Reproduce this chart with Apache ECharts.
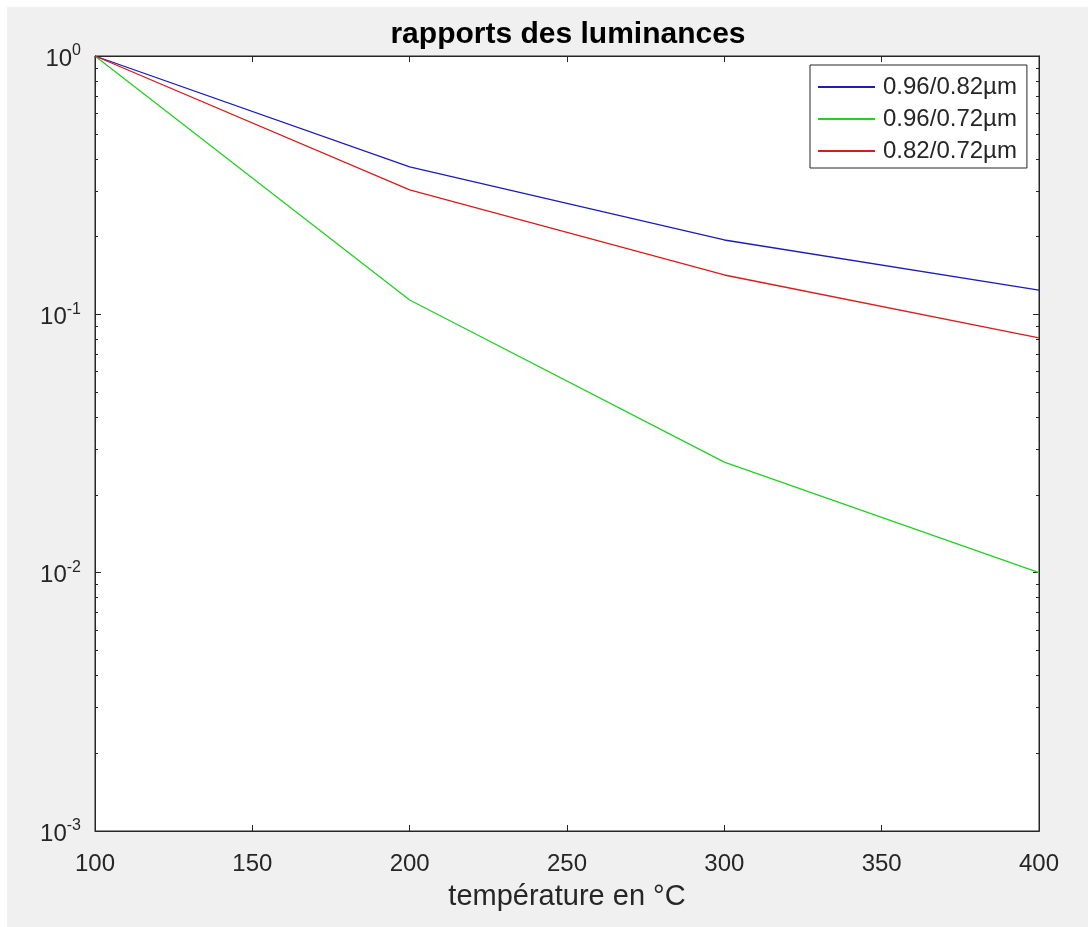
<!DOCTYPE html>
<html>
<head>
<meta charset="utf-8">
<script src="https://cdn.jsdelivr.net/npm/echarts@6/dist/echarts.min.js"></script>
<style>
html,body{margin:0;padding:0;background:#ffffff;}
#c{position:absolute;left:7px;top:7px;width:1081px;height:920px;}
</style>
</head>
<body>
<div id="c"></div>
<script>
// ---- data ----
var temperatures = [100, 200, 300, 400];
var ratio_096_082 = [1, 0.372, 0.194, 0.124];
var ratio_096_072 = [1, 0.1136, 0.0268, 0.0100];
var ratio_082_072 = [1, 0.303, 0.142, 0.081];
var seriesNames = ['0.96/0.82\u00b5m', '0.96/0.72\u00b5m', '0.82/0.72\u00b5m'];
var xTicks = [100, 150, 200, 250, 300, 350, 400];
var yDecades = [0.001, 0.01, 0.1, 1];
var yMinorTicks = [];
[0.001, 0.01, 0.1].forEach(function (d) {
  [2, 3, 4, 5, 6, 7, 8, 9].forEach(function (m) { yMinorTicks.push(+(d * m).toPrecision(3)); });
});

function pairs(xs, ys) { return xs.map(function (x, i) { return [x, ys[i]]; }); }

var axisColor = '#262626';
var font = 'Liberation Sans, Arial, Helvetica, sans-serif';
var colors = ['#1c1cb8', '#22d022', '#d81c1c'];

function logAxis(pos, showLabel, ticks, len) {
  return {
    type: 'log', logBase: 10, position: pos, min: 0.001, max: 1,
    gridIndex: 0,
    axisLine: { show: true, lineStyle: { color: axisColor, width: 1 } },
    axisTick: { show: true, inside: true, length: len, customValues: ticks, lineStyle: { color: axisColor, width: 1 } },
    axisLabel: showLabel ? {
      show: true, margin: 14, customValues: yDecades,
      formatter: function (v) { var e = Math.round(Math.log10(v)); return '{b|10}{s|' + e + '}'; },
      rich: {
        b: { fontSize: 24, fontFamily: font, color: axisColor, padding: [6, 0, 0, 0] },
        s: { fontSize: 16, fontFamily: font, color: axisColor, verticalAlign: 'bottom', padding: [0, 0, 12, 0] }
      }
    } : { show: false },
    splitLine: { show: false },
    minorTick: { show: false }
  };
}

function xAx(pos, showLabel) {
  return {
    type: 'value', position: pos, min: 100, max: 400, interval: 50, gridIndex: 0,
    axisLine: { show: true, onZero: false, lineStyle: { color: axisColor, width: 1 } },
    axisTick: { show: true, inside: true, length: 6, lineStyle: { color: axisColor, width: 1 } },
    axisLabel: showLabel ? { show: true, margin: 21, fontSize: 24, fontFamily: font, color: axisColor } : { show: false },
    splitLine: { show: false },
    name: showLabel ? 'temp\u00e9rature en \u00b0C' : '',
    nameLocation: 'middle', nameGap: 51,
    nameTextStyle: { fontSize: 29, fontFamily: font, color: axisColor }
  };
}

var chart = echarts.init(document.getElementById('c'), null, { renderer: 'canvas' });
chart.setOption({
  backgroundColor: '#f0f0f0',
  animation: false,
  title: {
    text: 'rapports des luminances', left: 556, top: 8, textAlign: 'center',
    textStyle: { fontSize: 30, fontWeight: 'bold', fontFamily: font, color: '#000' }
  },
  grid: { left: 88, top: 49, width: 944, height: 775, show: true, backgroundColor: '#ffffff', borderColor: axisColor, borderWidth: 1 },
  legend: {
    orient: 'vertical', left: 803, top: 58,
    backgroundColor: '#ffffff', borderColor: axisColor, borderWidth: 1, borderRadius: 0,
    padding: [10, 10, 5, 8], itemGap: 8, itemWidth: 57, itemHeight: 2, icon: 'rect',
    textStyle: { fontSize: 24, fontFamily: font, color: axisColor, lineHeight: 24, padding: [0, 0, 0, 3] },
    data: seriesNames
  },
  xAxis: [xAx('bottom', true), xAx('top', false)],
  yAxis: [
    logAxis('left', true, yDecades, 6),
    logAxis('right', false, yDecades, 6),
    logAxis('left', false, yMinorTicks, 3),
    logAxis('right', false, yMinorTicks, 3)
  ],
  series: [
    { name: seriesNames[0], type: 'line', data: pairs(temperatures, ratio_096_082), symbol: 'none', lineStyle: { color: colors[0], width: 1.3 }, itemStyle: { color: colors[0] } },
    { name: seriesNames[1], type: 'line', data: pairs(temperatures, ratio_096_072), symbol: 'none', lineStyle: { color: colors[1], width: 1.3 }, itemStyle: { color: colors[1] } },
    { name: seriesNames[2], type: 'line', data: pairs(temperatures, ratio_082_072), symbol: 'none', lineStyle: { color: colors[2], width: 1.3 }, itemStyle: { color: colors[2] } }
  ]
});
</script>
</body>
</html>
